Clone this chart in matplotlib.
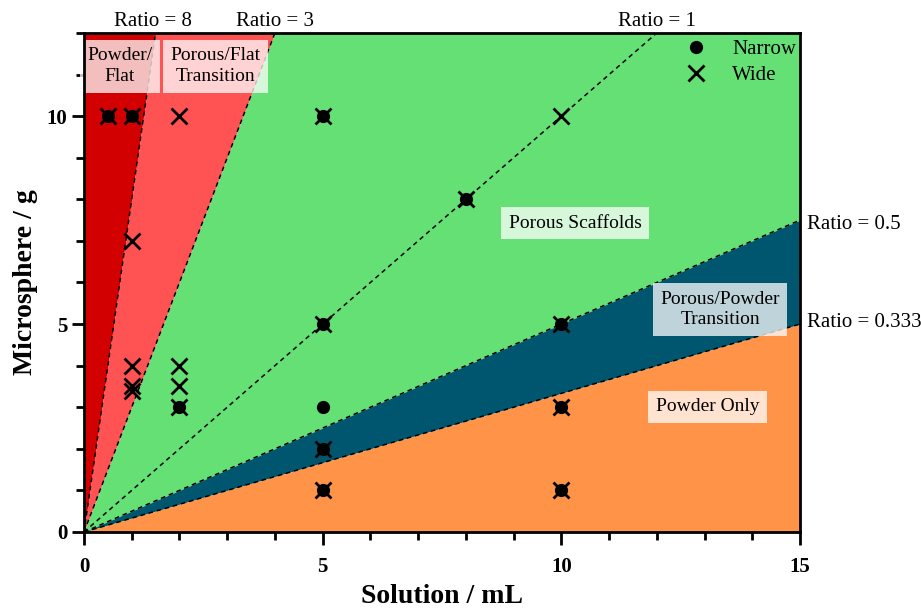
import matplotlib
matplotlib.use("Agg")
import matplotlib.pyplot as plt
import numpy as np
from matplotlib.ticker import MultipleLocator

plt.rcParams['font.family'] = ['Liberation Serif', 'DejaVu Serif']

# Ratio lines (ratio = microsphere / solution)
ratios = [8, 3, 1, 0.5, 1/3]
ratio_labels = ["Ratio = 8", "Ratio = 3", "Ratio = 1", "Ratio = 0.5", "Ratio = 0.333"]
# Filled regions: boundaries between them
region_bounds = [8, 3, 0.5, 1/3]
region_colors = ["#d20000", "#ff5252", "#64e074", "#00566f", "#ff9448"]

# Data points
narrow_x = [0.5, 1, 5, 8, 5, 10, 2, 5, 5, 5, 10, 10]
narrow_y = [10, 10, 10, 8, 5, 5, 3, 3, 2, 1, 3, 1]
wide_x = [0.5, 1, 2, 5, 10, 1, 8, 5, 10, 1, 1, 1, 2, 2, 2, 5, 5, 10, 10]
wide_y = [10, 10, 10, 10, 10, 7, 8, 5, 5, 4, 3.5, 3.38, 4, 3.5, 3, 2, 1, 3, 1]

region_names = ["Powder/\nFlat", "Porous/Flat\nTransition", "Porous Scaffolds",
                "Porous/Powder\nTransition", "Powder Only"]
region_label_x = [0.75, 2.75, 10.29, 13.33, 13.06]
region_label_y = [11.2, 11.2, 7.43, 5.35, 3.01]

xmax, ymax = 15, 12

fig = plt.figure(figsize=(9.21, 6.10), dpi=100)
ax = fig.add_axes([0.0912, 0.1279, 0.8686 - 0.0912, 0.9459 - 0.1279])

xs = np.linspace(0, xmax, 400)
bounds = [np.full_like(xs, 1e9)] + [r * xs for r in region_bounds] + [np.zeros_like(xs)]
for i, c in enumerate(region_colors):
    upper = np.minimum(bounds[i], ymax)
    lower = np.minimum(bounds[i + 1], ymax)
    ax.fill_between(xs, lower, upper, color=c, linewidth=0, zorder=1)

for r in ratios:
    ax.plot(xs, r * xs, color='black', linestyle=(0, (3, 2.5)), linewidth=1.1, zorder=2)

ax.set_xlim(0, xmax)
ax.set_ylim(0, ymax)

# Ratio labels
ax.text(ymax / ratios[0] - 0.05, ymax + 0.05, ratio_labels[0], ha='center', va='bottom', fontsize=15)
ax.text(ymax / ratios[1], ymax + 0.05, ratio_labels[1], ha='center', va='bottom', fontsize=15)
ax.text(ymax / ratios[2], ymax + 0.05, ratio_labels[2], ha='center', va='bottom', fontsize=15)
ax.text(xmax + 0.15, ratios[3] * xmax - 0.1, ratio_labels[3], ha='left', va='center',
        fontsize=15, clip_on=False)
ax.text(xmax + 0.15, ratios[4] * xmax + 0.03, ratio_labels[4], ha='left', va='center',
        fontsize=15, clip_on=False)

# Region labels
for name, lx, ly in zip(region_names, region_label_x, region_label_y):
    ax.text(lx, ly, name, ha='center', va='center', fontsize=14, zorder=5,
            linespacing=1.3,
            bbox=dict(boxstyle='square,pad=0.38', facecolor='white', alpha=0.75, edgecolor='none'))

ax.plot(narrow_x, narrow_y, linestyle='none', marker='o', markersize=8.5,
        color='black', zorder=6, label='Narrow')
ax.plot(wide_x, wide_y, linestyle='none', marker='x', markersize=11, markeredgewidth=2,
        color='black', zorder=6, label='Wide')

leg = ax.legend(loc='upper right', frameon=False, fontsize=15, handletextpad=1.0,
                bbox_to_anchor=(1.012, 1.012), borderaxespad=0.2, labelspacing=0.3,
                handlelength=1.5)

ax.xaxis.set_major_locator(MultipleLocator(5))
ax.xaxis.set_minor_locator(MultipleLocator(1))
ax.yaxis.set_major_locator(MultipleLocator(5))
ax.yaxis.set_minor_locator(MultipleLocator(1))
ax.tick_params(which='major', direction='out', length=9, width=2, labelsize=15)
ax.tick_params(which='minor', direction='out', length=6, width=2)
ax.tick_params(axis='x', which='major', pad=9)
ax.tick_params(axis='y', which='major', pad=3)
for lbl in ax.get_xticklabels() + ax.get_yticklabels():
    lbl.set_fontweight('bold')
for s in ax.spines.values():
    s.set_linewidth(2)
    s.set_zorder(10)

ax.set_xlabel('Solution / mL', fontsize=20, fontweight='bold', labelpad=5)
ax.set_ylabel('Microsphere / g', fontsize=20, fontweight='bold', labelpad=6)

fig.savefig('out.png', dpi=100)
